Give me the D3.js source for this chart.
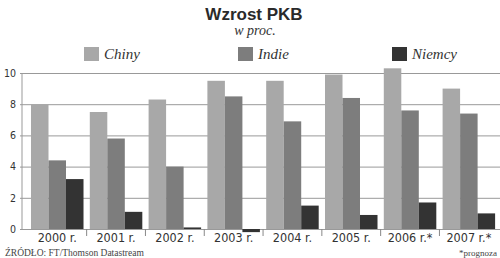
<!DOCTYPE html>
<html>
<head>
<meta charset="utf-8">
<script src="https://cdn.jsdelivr.net/npm/d3@7"></script>
<style>
html,body{margin:0;padding:0;background:#fff;}
svg{display:block;}
</style>
</head>
<body>
<svg id="chart" width="500" height="258"></svg>
<script>
const categories = ["2000 r.", "2001 r.", "2002 r.", "2003 r.", "2004 r.", "2005 r.", "2006 r.*", "2007 r.*"];
const seriesNames = ["Chiny", "Indie", "Niemcy"];
const chiny  = [8.0, 7.5, 8.3, 9.5, 9.5, 9.9, 10.3, 9.0];
const indie  = [4.4, 5.8, 4.0, 8.5, 6.9, 8.4, 7.6, 7.4];
const niemcy = [3.2, 1.1, 0.1, -0.2, 1.5, 0.9, 1.7, 1.0];
const yTicks = [0, 2, 4, 6, 8, 10];
const colors = ["#a8a8a8", "#7d7d7d", "#333333"];

const seriesValues = [chiny, indie, niemcy];
const data = categories.map((c, i) => ({cat: c, vals: seriesNames.map((s, j) => ({name: s, v: seriesValues[j][i], color: colors[j]}))}));

const svg = d3.select("#chart");

// Title
svg.append("text").attr("x", 254).attr("y", 20).attr("text-anchor", "middle")
  .attr("font-family", "Liberation Sans, Arial, sans-serif").attr("font-weight", "bold")
  .attr("font-size", 17).attr("fill", "#2a2a2a").text("Wzrost PKB");
svg.append("text").attr("x", 255).attr("y", 35).attr("text-anchor", "middle")
  .attr("font-family", "Liberation Serif, Times New Roman, serif").attr("font-style", "italic")
  .attr("font-size", 14).attr("fill", "#333").text("w proc.");

// Legend
const legendX = [84, 238, 392];
const leg = svg.selectAll("g.leg").data(seriesNames).enter().append("g").attr("class", "leg")
  .attr("transform", (d, i) => `translate(${legendX[i]},47)`);
leg.append("rect").attr("width", 15).attr("height", 14).attr("fill", (d, i) => colors[i]);
leg.append("text").attr("x", 20).attr("y", 12).attr("font-family", "Liberation Serif, Times New Roman, serif")
  .attr("font-style", "italic").attr("font-size", 15).attr("fill", "#333").text(d => d);

// Scales
const y = d3.scaleLinear().domain([0, 10]).range([229, 73]);
const x = d3.scaleBand().domain(categories).range([27.85, 498.25]).paddingInner(0.107).paddingOuter(0.0535);
const xs = d3.scaleBand().domain(seriesNames).range([0, x.bandwidth()]);

// Gridlines
const yAxis = d3.axisLeft(y).tickValues(yTicks).tickSize(-478).tickPadding(6).tickFormat(d3.format("d"));
const gy = svg.append("g").attr("transform", "translate(22,0)").call(yAxis);
gy.select(".domain").attr("stroke", "#999").attr("d", "M0,73V229");
gy.selectAll(".tick line").attr("stroke", "#999").attr("x1", -2);
gy.selectAll(".tick text").attr("font-family", "DejaVu Sans Condensed, DejaVu Sans, sans-serif")
  .attr("font-size", 10.5).attr("fill", "#333").attr("x", -6);

// Bars
const g = svg.append("g");
const groups = g.selectAll("g.grp").data(data).enter().append("g").attr("class", "grp")
  .attr("transform", d => `translate(${x(d.cat)},0)`);
groups.selectAll("rect").data(d => d.vals).enter().append("rect")
  .attr("x", d => xs(d.name)).attr("width", xs.bandwidth())
  .attr("y", d => Math.min(y(d.v), y(0)))
  .attr("height", d => Math.abs(y(d.v) - y(0)))
  .attr("fill", d => d.color);

// Category axis
const xAxis = d3.axisBottom(x).tickSize(0).tickPadding(4);
const gx = svg.append("g").attr("transform", "translate(0,229)").call(xAxis);
gx.select(".domain").remove();
gx.selectAll(".tick text").attr("font-family", "DejaVu Sans Condensed, DejaVu Sans, sans-serif")
  .attr("font-size", 12.5).attr("fill", "#333").attr("dy", "0.71em");

// Separators between categories
const seps = categories.slice(1).map(c => x(c) - x.step() * x.paddingInner() / 2);
svg.append("g").selectAll("line").data(seps).enter().append("line")
  .attr("x1", d => d).attr("x2", d => d).attr("y1", 229).attr("y2", 236)
  .attr("stroke", "#888").attr("stroke-width", 1);

// Footer
svg.append("text").attr("x", 5).attr("y", 256).attr("font-family", "Liberation Serif, Times New Roman, serif")
  .attr("font-size", 9.5).attr("fill", "#444").text("ŹRÓDŁO: FT/Thomson Datastream");
svg.append("text").attr("x", 497).attr("y", 256).attr("text-anchor", "end")
  .attr("font-family", "Liberation Serif, Times New Roman, serif")
  .attr("font-size", 9).attr("fill", "#444").text("*prognoza");
</script>
</body>
</html>
